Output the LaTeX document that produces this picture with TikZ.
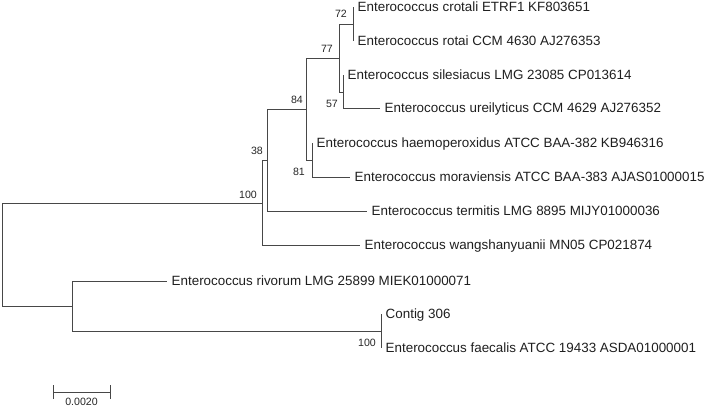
\documentclass[tikz,border=0pt]{standalone}
\usepackage{fontspec}
\setmainfont{Liberation Sans}
\usetikzlibrary{positioning}
\tikzset{
    branch/.style={draw=black!72, line width=0.9pt},
    leaf/.style={anchor=west, inner xsep=4.5pt, inner ysep=0pt,
        text height=9.6pt, text depth=0pt, text=black!88,
        font=\fontsize{13.4}{16}\selectfont},
    boot/.style={inner sep=0pt, text height=7.6pt, text depth=0pt,
        text=black!85, font=\fontsize{10.6}{12}\selectfont}
}

\begin{document}
\begin{tikzpicture}[x=1pt, y=-1pt]

    \useasboundingbox (0,0) rectangle (708,408);

    % Inner nodes
    \coordinate (n72)   at (353,24);
    \coordinate (n57)   at (343,92);
    \coordinate (n77)   at (339,58);
    \coordinate (n81)   at (312,160);
    \coordinate (n84)   at (306,109);
    \coordinate (n38)   at (267,160);
    \coordinate (n100a) at (262,203);
    \coordinate (n100b) at (381,331);
    \coordinate (nriv)  at (72,306);
    \coordinate (root)  at (2,254.5);

    % Leaves
    \node[leaf] (crotali)  at (353,7)   {Enterococcus crotali ETRF1 KF803651};
    \node[leaf] (rotai)    at (353,41)  {Enterococcus rotai CCM 4630 AJ276353};
    \node[leaf] (silesia)  at (343,75)  {Enterococcus silesiacus LMG 23085 CP013614};
    \node[leaf] (ureily)   at (380,108) {Enterococcus ureilyticus CCM 4629 AJ276352};
    \node[leaf] (haemo)    at (312,143) {Enterococcus haemoperoxidus ATCC BAA-382 KB946316};
    \node[leaf] (moravi)   at (350,177) {Enterococcus moraviensis ATCC BAA-383 AJAS01000015};
    \node[leaf] (termitis) at (367,211) {Enterococcus termitis LMG 8895 MIJY01000036};
    \node[leaf] (wang)     at (360,245) {Enterococcus wangshanyuanii MN05 CP021874};
    \node[leaf] (rivorum)  at (167,281) {Enterococcus rivorum LMG 25899 MIEK01000071};
    \node[leaf] (contig)   at (381,314) {Contig 306};
    \node[leaf] (faecalis) at (381,348) {Enterococcus faecalis ATCC 19433 ASDA01000001};

    % Branches
    \draw[branch] (n72) |- (crotali) (n72) |- (rotai);
    \draw[branch] (n57) |- (silesia) (n57) |- (ureily);
    \draw[branch] (n77) |- (n72) (n77) |- (n57);
    \draw[branch] (n81) |- (haemo) (n81) |- (moravi);
    \draw[branch] (n84) |- (n77) (n84) |- (n81);
    \draw[branch] (n38) |- (n84) (n38) |- (termitis);
    \draw[branch] (n100a) |- (n38) (n100a) |- (wang);
    \draw[branch] (n100b) |- (contig) (n100b) |- (faecalis);
    \draw[branch] (nriv) |- (rivorum) (nriv) |- (n100b);
    \draw[branch] (root) |- (n100a) (root) |- (nriv);

    % Bootstrap values
    \node[boot, above left=6pt and 6pt of n72]   (b72)   {72};
    \node[boot, above left=5pt and 6pt of n77]   (b77)   {77};
    \node[boot, above left=5pt and 3pt of n84]   (b84)   {84};
    \node[boot, above left=5pt and 4pt of n38]   (b38)   {38};
    \node[boot, above left=4pt and 5pt of n100a] (b100a) {100};
    \node[boot, below left=8pt and 5pt of n57]   (b57)   {57};
    \node[boot, below left=8pt and 7pt of n81]   (b81)   {81};
    \node[boot, below left=8pt and 5pt of n100b] (b100b) {100};

    % Scale bar
    \coordinate (sbl) at (53,392);
    \coordinate (sbr) at (110,392);
    \draw[branch] (sbl) -- (sbr);
    \draw[branch] ([yshift=7pt]sbl) -- ([yshift=-7pt]sbl);
    \draw[branch] ([yshift=7pt]sbr) -- ([yshift=-7pt]sbr);
    \node[boot, anchor=south] (sblabel) at (81.5,406) {0.0020};

\end{tikzpicture}
\end{document}
